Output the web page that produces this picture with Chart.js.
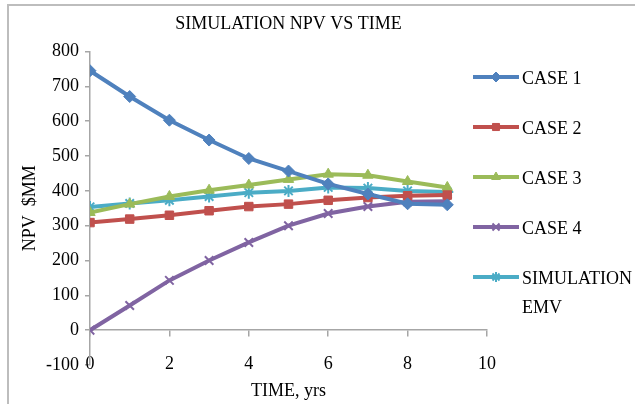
<!DOCTYPE html>
<html>
<head>
<meta charset="utf-8">
<script src="https://cdn.jsdelivr.net/npm/chart.js@4.4.0/dist/chart.umd.min.js"></script>
<style>
  html, body { margin: 0; padding: 0; background: #fff; overflow: hidden; }
  #wrap { position: relative; width: 635px; height: 404px; }
  #frame { position: absolute; left: 7px; top: 4px; width: 700px; height: 500px;
           border-top: 2px solid #bdbdbd; border-left: 2px solid #bdbdbd; pointer-events: none; }
</style>
</head>
<body>
<div id="wrap">
  <canvas id="npvChart" width="635" height="404"></canvas>
  <div id="frame"></div>
</div>
<script>
// values
var years = [0, 1, 2, 3, 4, 5, 6, 7, 8, 9];
var case1 = [745, 671, 603, 546, 493, 457, 420, 391, 363, 360];
var case2 = [309, 319, 330, 343, 355, 362, 373, 381, 386, 388];
var case3 = [338, 362, 384, 402, 417, 433, 448, 445, 427, 410];
var case4 = [0, 71, 143, 200, 252, 300, 335, 355, 369, 370];
var simEmv = [354, 364, 373, 384, 395, 400, 410, 408, 400, 397];

var seriesNames = ['CASE 1', 'CASE 2', 'CASE 3', 'CASE 4', ['SIMULATION', 'EMV']];
var yTicks = [-100, 0, 100, 200, 300, 400, 500, 600, 700, 800];

var serif = "'Liberation Serif', 'Times New Roman', serif";
var axisGray = '#a6a6a6';

function toPoints(vals) {
  return vals.map(function (v, i) { return { x: years[i], y: v }; });
}

function series(label, vals, color, style, radius, bw) {
  return {
    label: label,
    data: toPoints(vals),
    borderColor: color,
    backgroundColor: color,
    borderWidth: 4,
    pointStyle: style,
    pointRadius: radius,
    pointBorderWidth: bw,
    pointBackgroundColor: color,
    pointBorderColor: color,
    tension: 0
  };
}

var datasets = [
  series(seriesNames[0], case1, '#4f81bd', 'rectRot', 6, 1),
  series(seriesNames[1], case2, '#c0504d', 'rect', 6, 1),
  series(seriesNames[2], case3, '#9bbb59', 'triangle', 6, 1),
  series(seriesNames[3], case4, '#8064a2', 'crossRot', 6, 2),
  series(seriesNames[4], simEmv, '#4bacc6', 'star', 6, 2)
];

// legend drawn on the right, one row per dataset
var sideLegend = {
  id: 'sideLegend',
  afterDraw: function (chart) {
    var ctx = chart.ctx;
    ctx.save();
    chart.data.datasets.forEach(function (ds, i) {
      var y = 77 + i * 50;
      ctx.strokeStyle = ds.borderColor;
      ctx.fillStyle = ds.borderColor;
      ctx.lineWidth = 4;
      ctx.beginPath();
      ctx.moveTo(473, y);
      ctx.lineTo(519, y);
      ctx.stroke();
      ctx.lineWidth = ds.pointBorderWidth;
      Chart.helpers.drawPoint(ctx, { pointStyle: ds.pointStyle, radius: 5, borderWidth: ds.pointBorderWidth, rotation: 0 }, 496, y);
      ctx.fillStyle = '#000';
      ctx.font = '18px ' + serif;
      ctx.textBaseline = 'middle';
      ctx.textAlign = 'left';
      var lines = Array.isArray(ds.label) ? ds.label : [ds.label];
      lines.forEach(function (t, j) {
        ctx.fillText(t, 522, y + 2 + j * 29);
      });
    });
    ctx.restore();
  }
};

var ctx = document.getElementById('npvChart');
var myChart = new Chart(ctx, {
  type: 'line',
  data: { datasets: datasets },
  plugins: [sideLegend],
  options: {
    responsive: false,
    animation: false,
    layout: { padding: { left: 0, right: 148, top: 0, bottom: 0 } },
    plugins: {
      legend: { display: false },
      tooltip: { enabled: false },
      title: {
        display: true,
        fullSize: false,
        text: 'SIMULATION NPV VS TIME',
        color: '#000',
        font: { family: serif, size: 18, weight: 'normal' },
        padding: { top: 13, bottom: 17 }
      }
    },
    scales: {
      x: {
        type: 'linear',
        position: 'bottom',
        min: 0,
        max: 10,
        afterFit: function (s) { s.height = 39; },
        // mirror keeps the labels from being clipped to the axis box
        ticks: { stepSize: 2, color: '#000', font: { family: serif, size: 18 }, mirror: true, padding: -10 },
        grid: { display: false, drawTicks: false },
        border: { display: false },
        title: {
          display: true,
          text: 'TIME, yrs',
          color: '#000',
          font: { family: serif, size: 18 },
          padding: { top: 0, bottom: 2 }
        }
      },
      x2: {
        type: 'linear',
        position: { y: 0 },
        min: 0,
        max: 10,
        ticks: { display: false, stepSize: 2 },
        grid: { drawOnChartArea: false, drawTicks: true, tickLength: 6, color: axisGray, lineWidth: 1.5 },
        border: { display: true, color: axisGray, width: 1.5 }
      },
      y: {
        min: -100,
        max: 800,
        afterFit: function (s) { s.width = 90; },
        afterBuildTicks: function (s) { s.ticks = yTicks.map(function (v) { return { value: v }; }); },
        ticks: { color: '#000', font: { family: serif, size: 18 }, padding: 6 },
        grid: { drawOnChartArea: false, drawTicks: true, tickLength: 5, color: axisGray, lineWidth: 1.5 },
        border: { display: true, color: axisGray, width: 1.5 },
        title: {
          display: true,
          text: 'NPV  $MM',
          color: '#000',
          font: { family: serif, size: 18 },
          padding: { top: 19, bottom: 0 }
        }
      }
    }
  }
});
</script>
</body>
</html>
